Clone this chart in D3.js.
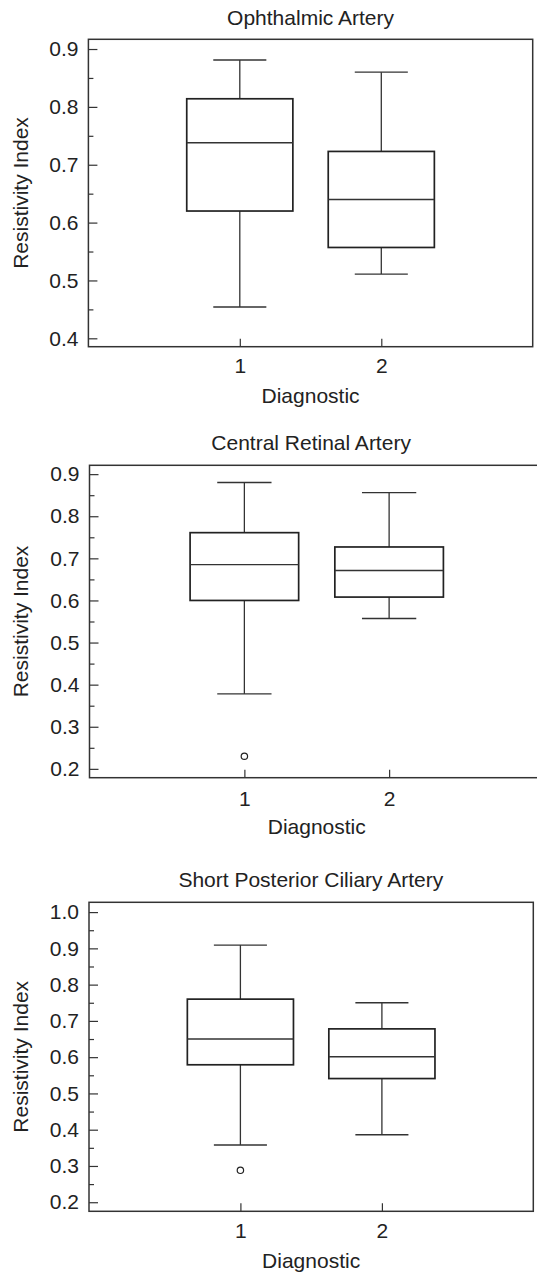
<!DOCTYPE html>
<html>
<head>
<meta charset="utf-8">
<script src="https://cdn.jsdelivr.net/npm/d3@7"></script>
<style>
  body { margin: 0; background: #fff; }
  svg { display: block; }
  text { font-family: "Liberation Sans", Arial, sans-serif; fill: #222; }
</style>
</head>
<body>
<script>
// groups on the x axis
var categories = [1, 2];

// Ophthalmic Artery
var ophTitle = "Ophthalmic Artery";
var ophLow = [0.454, 0.511];
var ophQ1 = [0.620, 0.557];
var ophMed = [0.738, 0.640];
var ophQ3 = [0.814, 0.723];
var ophHigh = [0.881, 0.860];
var ophOut = [[], []];
var ophTicks = [0.4, 0.5, 0.6, 0.7, 0.8, 0.9];

// Central Retinal Artery
var craTitle = "Central Retinal Artery";
var craLow = [0.378, 0.557];
var craQ1 = [0.600, 0.608];
var craMed = [0.685, 0.671];
var craQ3 = [0.761, 0.727];
var craHigh = [0.880, 0.856];
var craOut = [[0.230], []];
var craTicks = [0.2, 0.3, 0.4, 0.5, 0.6, 0.7, 0.8, 0.9];

// Short Posterior Ciliary Artery
var spcaTitle = "Short Posterior Ciliary Artery";
var spcaLow = [0.358, 0.386];
var spcaQ1 = [0.579, 0.541];
var spcaMed = [0.650, 0.601];
var spcaQ3 = [0.760, 0.678];
var spcaHigh = [0.909, 0.750];
var spcaOut = [[0.288], []];
var spcaTicks = [0.2, 0.3, 0.4, 0.5, 0.6, 0.7, 0.8, 0.9, 1.0];

var width = 537, height = 1276;

var svg = d3.select("body").append("svg")
    .attr("width", width)
    .attr("height", height);

svg.append("rect").attr("width", width).attr("height", height).attr("fill", "#fff");

// panel frames (pixels) and y ranges
var panels = [
  { title: ophTitle, low: ophLow, q1: ophQ1, med: ophMed, q3: ophQ3, high: ophHigh, out: ophOut,
    ticks: ophTicks, yDomain: [0.3855, 0.9168], top: 39.3, bottom: 346.7, left: 88.4, right: 532.7,
    titleY: 25, xLabY: 373, axLabY: 403 },
  { title: craTitle, low: craLow, q1: craQ1, med: craMed, q3: craQ3, high: craHigh, out: craOut,
    ticks: craTicks, yDomain: [0.179, 0.921], top: 465.3, bottom: 777.7, left: 89.5, right: 544,
    titleY: 450, xLabY: 806, axLabY: 834 },
  { title: spcaTitle, low: spcaLow, q1: spcaQ1, med: spcaMed, q3: spcaQ3, high: spcaHigh, out: spcaOut,
    ticks: spcaTicks, yDomain: [0.175, 1.027], top: 902.3, bottom: 1211.3, left: 89, right: 533.3,
    titleY: 887, xLabY: 1238, axLabY: 1268 }
];

panels.forEach(drawPanel);

function drawPanel(p) {
  var x = d3.scaleLinear().domain([-0.07, 3.07]).range([p.left, p.right]);
  var y = d3.scaleLinear().domain(p.yDomain).range([p.bottom, p.top]);
  var g = svg.append("g");

  // minor ticks at half steps
  var minor = p.ticks.slice(0, -1).map(function(t) { return Math.round((t + 0.05) * 100) / 100; });
  if (y.domain()[1] > p.ticks[p.ticks.length - 1] + 0.05) minor.push(p.ticks[p.ticks.length - 1] + 0.05);

  g.append("g")
    .attr("transform", "translate(" + p.left + ",0)")
    .call(d3.axisLeft(y).tickValues(minor).tickSize(-5).tickFormat(""))
    .call(function(a) { a.select(".domain").remove(); a.selectAll("line").attr("stroke", "#333").attr("stroke-width", 1.2); });

  var yAx = g.append("g")
    .attr("transform", "translate(" + p.left + ",0)")
    .call(d3.axisLeft(y).tickValues(p.ticks).tickSize(-9).tickPadding(10).tickFormat(d3.format(".1f")));
  yAx.select(".domain").remove();
  yAx.selectAll("line").attr("stroke", "#333").attr("stroke-width", 1.2);
  yAx.selectAll("text").style("font-size", "21px").attr("fill", "#222");

  var xAx = g.append("g")
    .attr("transform", "translate(0," + p.bottom + ")")
    .call(d3.axisBottom(x).tickValues(categories).tickSize(-8).tickPadding(12).tickFormat(d3.format("d")));
  xAx.select(".domain").remove();
  xAx.selectAll("line").attr("stroke", "#333").attr("stroke-width", 1.2);
  xAx.selectAll("text").style("font-size", "21px").attr("fill", "#222")
    .attr("y", null).attr("dy", null)
    .attr("transform", "translate(0," + (p.xLabY - p.bottom) + ")");

  // frame
  g.append("rect")
    .attr("x", p.left).attr("y", p.top)
    .attr("width", p.right - p.left).attr("height", p.bottom - p.top)
    .attr("fill", "none").attr("stroke", "#333").attr("stroke-width", 1.5);

  var boxW = x(0.375) - x(0);
  var capW = x(0.1875) - x(0);

  categories.forEach(function(c, i) {
    var cx = x(c);
    // whiskers
    g.append("line").attr("x1", cx).attr("x2", cx).attr("y1", y(p.high[i])).attr("y2", y(p.q3[i]))
      .attr("stroke", "#333").attr("stroke-width", 1.3);
    g.append("line").attr("x1", cx).attr("x2", cx).attr("y1", y(p.q1[i])).attr("y2", y(p.low[i]))
      .attr("stroke", "#333").attr("stroke-width", 1.3);
    g.append("line").attr("x1", cx - capW).attr("x2", cx + capW).attr("y1", y(p.high[i])).attr("y2", y(p.high[i]))
      .attr("stroke", "#333").attr("stroke-width", 1.4);
    g.append("line").attr("x1", cx - capW).attr("x2", cx + capW).attr("y1", y(p.low[i])).attr("y2", y(p.low[i]))
      .attr("stroke", "#333").attr("stroke-width", 1.4);
    // box
    g.append("rect")
      .attr("x", cx - boxW).attr("y", y(p.q3[i]))
      .attr("width", 2 * boxW).attr("height", y(p.q1[i]) - y(p.q3[i]))
      .attr("fill", "none").attr("stroke", "#222").attr("stroke-width", 1.7);
    g.append("line").attr("x1", cx - boxW).attr("x2", cx + boxW).attr("y1", y(p.med[i])).attr("y2", y(p.med[i]))
      .attr("stroke", "#333").attr("stroke-width", 1.4);
    // outliers
    p.out[i].forEach(function(v) {
      g.append("circle").attr("cx", cx).attr("cy", y(v)).attr("r", 3.2)
        .attr("fill", "none").attr("stroke", "#222").attr("stroke-width", 1.2);
    });
  });

  var mid = (x(-0.07) + x(3.07)) / 2;
  var plotMid = (p.left + Math.min(p.right, 532.7)) / 2;
  g.append("text").attr("x", (p.left + 532.7) / 2).attr("y", p.titleY)
    .attr("text-anchor", "middle").style("font-size", "21px").text(p.title);
  g.append("text").attr("x", x(1.5)).attr("y", p.axLabY)
    .attr("text-anchor", "middle").style("font-size", "21px").text("Diagnostic");
  g.append("text")
    .attr("transform", "translate(" + 28 + "," + ((p.top + p.bottom) / 2) + ") rotate(-90)")
    .attr("text-anchor", "middle").style("font-size", "21px").text("Resistivity Index");
}
</script>
</body>
</html>
